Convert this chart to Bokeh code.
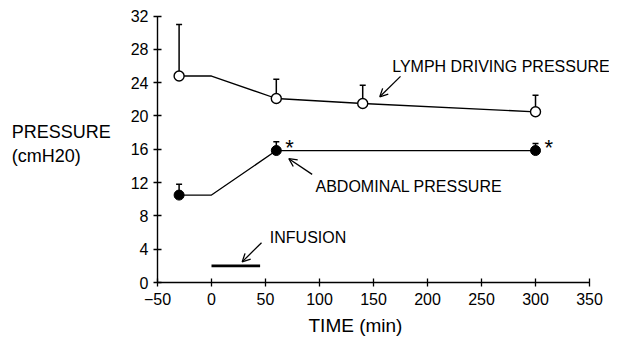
from bokeh.plotting import figure
from bokeh.models import Range1d, FixedTicker, Label, Arrow, OpenHead, Title
from bokeh.core.properties import value
from bokeh.embed import file_html
from bokeh.resources import INLINE

# ---- data ----
x_ticks = [-50, 0, 50, 100, 150, 200, 250, 300, 350]
y_ticks = [0, 4, 8, 12, 16, 20, 24, 28, 32]

lymph_time = [-30, 60, 140, 300]
lymph_mean = [24.8, 22.1, 21.5, 20.5]
lymph_err_top = [31.0, 24.4, 23.7, 22.5]

abd_time = [-30, 60, 300]
abd_mean = [10.5, 15.85, 15.85]
abd_err_top = [11.8, 16.9, 16.7]

# line paths: baseline held flat until infusion start (t=0)
lymph_line_t = [-30, 0, 60, 140, 300]
lymph_line_v = [24.8, 24.8, 22.1, 21.5, 20.5]
abd_line_t = [-30, 0, 60, 300]
abd_line_v = [10.5, 10.5, 15.85, 15.85]

signif_time = [60, 300]
signif_val = [15.85, 15.85]

infusion_t = [0, 45]
infusion_level = [2, 2]

FONT = "Liberation Sans"

p = figure(width=609, height=340, output_backend="svg", toolbar_location=None,
           x_range=Range1d(-50, 368.5), y_range=Range1d(0, 33.27),
           min_border_left=157, min_border_right=0, min_border_top=5, min_border_bottom=55)
p.outline_line_color = None
p.grid.visible = False
p.background_fill_color = "white"
p.border_fill_color = "white"

for ax in (p.xaxis[0], p.yaxis[0]):
    ax.axis_line_width = 1.4
    ax.axis_line_color = "black"
    ax.major_tick_line_color = "black"
    ax.major_tick_line_width = 1.3
    ax.major_tick_in = 4
    ax.major_tick_out = 4
    ax.minor_tick_line_color = None
    ax.major_label_text_font = FONT
    ax.major_label_text_font_size = "16px"
    ax.major_label_text_color = "black"

p.xaxis.bounds = (-50, 350)
p.yaxis.bounds = (0, 32)
p.xaxis.ticker = FixedTicker(ticks=x_ticks)
p.yaxis.ticker = FixedTicker(ticks=y_ticks)
p.xaxis.major_label_overrides = {t: (str(t).replace("-", "\u2212")) for t in x_ticks}
p.xaxis.major_label_standoff = 6
p.yaxis.major_label_standoff = 5

p.yaxis.axis_label = "PRESSURE\n(cmH20)" + "\u00a0" * 6
p.yaxis.axis_label_orientation = "horizontal"
p.yaxis.axis_label_text_font = FONT
p.yaxis.axis_label_text_font_size = "18px"
p.yaxis.axis_label_text_font_style = "normal"
p.yaxis.axis_label_text_color = "black"
p.yaxis.axis_label_standoff = 17

p.add_layout(Title(text="TIME (min)", align="left", offset=151, text_font=FONT,
                   text_font_size="19px", text_font_style="normal", text_color="black"),
             "below")

# lines
p.line(lymph_line_t, lymph_line_v, line_color="black", line_width=1.3)
p.line(abd_line_t, abd_line_v, line_color="black", line_width=1.3)

# error bars (upper only)
p.segment(x0=lymph_time, y0=lymph_mean, x1=lymph_time, y1=lymph_err_top, line_color="black", line_width=1.5)
p.scatter(lymph_time, lymph_err_top, marker="dash", size=6, line_color="black", line_width=1.5)
p.segment(x0=abd_time, y0=abd_mean, x1=abd_time, y1=abd_err_top, line_color="black", line_width=1.5)
p.scatter(abd_time, abd_err_top, marker="dash", size=6, line_color="black", line_width=1.5)

# markers
p.scatter(lymph_time, lymph_mean, marker="circle", size=10, fill_color="white",
          line_color="black", line_width=1.4)
p.scatter(abd_time, abd_mean, marker="circle", size=10, fill_color="black",
          line_color="black", line_width=1)

# significance asterisks
p.text(x=signif_time, y=signif_val, text=["*", "*"], x_offset=9, y_offset=-3,
       text_font=value(FONT), text_font_size="22px", text_color="black",
       text_baseline="middle", text_align="left")

# infusion bar
p.line(infusion_t, infusion_level, line_color="black", line_width=2.6)

def lab(x, y, t, size="16px"):
    p.add_layout(Label(x=x, y=y, text=t, text_font=FONT, text_font_size=size,
                       text_color="black", text_baseline="middle", text_align="left"))

lab(167.3, 26.0, "LYMPH DRIVING PRESSURE")
lab(96.3, 11.55, "ABDOMINAL PRESSURE")
lab(54.0, 5.37, "INFUSION")

def arrow(x0, y0, x1, y1):
    p.add_layout(Arrow(x_start=x0, y_start=y0, x_end=x1, y_end=y1,
                       line_color="black", line_width=1.3,
                       end=OpenHead(size=8, line_color="black", line_width=1.3)))

arrow(175.0, 24.76, 155.8, 22.3)
arrow(93.2, 12.99, 71.6, 14.87)
arrow(46.3, 4.78, 28.4, 2.48)

open("out.html", "w").write(file_html(p, INLINE))
